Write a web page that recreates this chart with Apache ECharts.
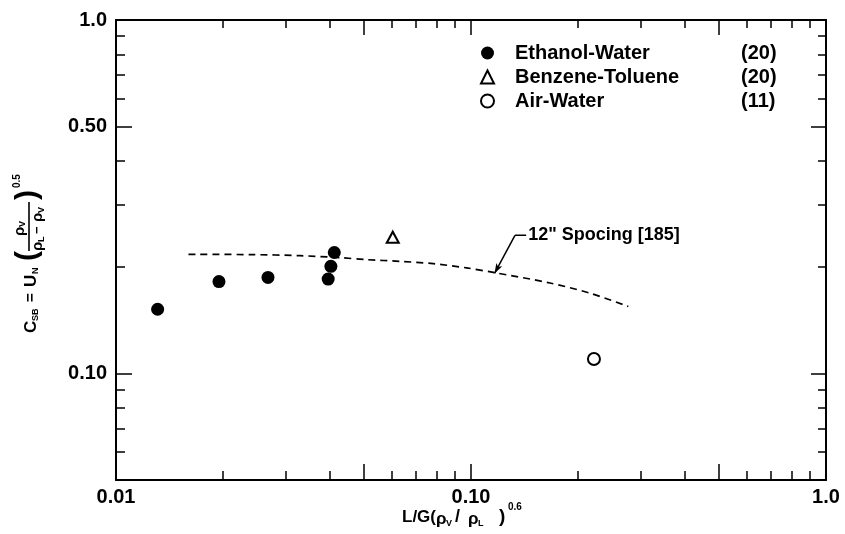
<!DOCTYPE html>
<html><head><meta charset="utf-8">
<script src="https://cdn.jsdelivr.net/npm/echarts@6/dist/echarts.min.js"></script>
<style>html,body{margin:0;padding:0;background:#fff}#c{width:845px;height:534px}</style>
</head><body><div id="c"></div>
<script>
// ---- data ----
const seriesNames = ['Ethanol-Water', 'Benzene-Toluene', 'Air-Water'];
const seriesRefs = ['(20)', '(20)', '(11)'];
const ethanolX = [0.0131, 0.0195, 0.0268, 0.0396, 0.0403, 0.0412];
const ethanolY = [0.152, 0.182, 0.187, 0.185, 0.201, 0.220];
const benzeneX = [0.0602];
const benzeneY = [0.243];
const airX = [0.222];
const airY = [0.110];
const curveX = [0.0160, 0.0239, 0.0330, 0.0428, 0.0508, 0.0631, 0.0783, 0.0972, 0.1156, 0.1669, 0.2164, 0.2774];
const curveY = [0.2174, 0.2170, 0.2155, 0.2127, 0.2100, 0.2077, 0.2046, 0.1990, 0.1932, 0.1804, 0.1688, 0.1548];
const curveLabel = '12" Spocing [185]';
const leaderX = [0.1165, 0.133, 0.143];
const leaderY = [0.192, 0.246, 0.246];
// axes
const xRange = [0.01, 1];
const yRange = [0.05, 1];
const xLabelValues = [0.01, 0.1, 1];
const xLabelTexts = ['0.01', '0.10', '1.0'];
const yLabelValues = [0.1, 0.5, 1];
const yLabelTexts = ['0.10', '0.50', '1.0'];
const xMajorTicks = [0.05, 0.1, 0.5];
const xMinorTicks = [0.02, 0.03, 0.04, 0.06, 0.07, 0.08, 0.09, 0.2, 0.3, 0.4, 0.6, 0.7, 0.8, 0.9];
const yMajorTicks = [0.1, 0.5];
const yMinorTicks = [0.06, 0.07, 0.08, 0.09, 0.2, 0.3, 0.4, 0.6, 0.7, 0.8, 0.9];

const zip = (a, b) => a.map((v, i) => [v, b[i]]);
const FONT = 'Liberation Sans';
const lbl = (vals, texts) => v => {
  let best = -1, d = 1e9;
  vals.forEach((x, i) => { const dd = Math.abs(Math.log10(x) - Math.log10(v)); if (dd < d) { d = dd; best = i; } });
  return d < 1e-6 ? texts[best] : '';
};

function mkAxis(dim, pos, range, showLine, ticks, len, labels) {
  return {
    type: 'log', logBase: 10, min: range[0], max: range[1], position: pos,
    axisLine: { show: showLine, onZero: false, lineStyle: { color: '#000', width: 2 } },
    axisTick: { show: true, inside: true, length: len, customValues: ticks, lineStyle: { color: '#000', width: 1.5 } },
    axisLabel: labels ? {
      show: true, customValues: labels[0], formatter: lbl(labels[0], labels[1]),
      color: '#000', fontFamily: FONT, fontWeight: 'bold', fontSize: 20, margin: dim === 'x' ? 7 : 9
    } : { show: false },
    splitLine: { show: false }, minorTick: { show: false }
  };
}

const T = (text, x, y, size, extra) => ({ type: 'text', x, y,
  style: Object.assign({ text, font: `bold ${size}px "${FONT}"`, fill: '#000', verticalAlign: 'middle' }, extra || {}) });

const chart = echarts.init(document.getElementById('c'), null, { renderer: 'canvas' });
const option = {
  backgroundColor: '#fff',
  animation: false,
  grid: { left: 116, right: 19, top: 20, bottom: 54, containLabel: false },
  xAxis: [
    mkAxis('x', 'bottom', xRange, true, xMajorTicks, 16, [xLabelValues, xLabelTexts]),
    mkAxis('x', 'bottom', xRange, false, xMinorTicks, 9, null),
    mkAxis('x', 'top', xRange, true, xMajorTicks, 15, null),
    mkAxis('x', 'top', xRange, false, xMinorTicks, 8, null)
  ],
  yAxis: [
    mkAxis('y', 'left', yRange, true, yMajorTicks, 16, [yLabelValues, yLabelTexts]),
    mkAxis('y', 'left', yRange, false, yMinorTicks, 9, null),
    mkAxis('y', 'right', yRange, true, yMajorTicks, 15, null),
    mkAxis('y', 'right', yRange, false, yMinorTicks, 8, null)
  ],
  legend: {
    data: seriesNames,
    orient: 'vertical', left: 475, top: 36,
    itemWidth: 13, itemHeight: 13, itemGap: 0,
    selectedMode: false,
    formatter: name => `{n|${name}}{r|${seriesRefs[seriesNames.indexOf(name)]}}`,
    textStyle: {
      color: '#000', fontFamily: FONT, fontWeight: 'bold', fontSize: 20, lineHeight: 24,
      rich: {
        n: { width: 226, padding: [0, 0, 0, 16], fontFamily: FONT, fontWeight: 'bold', fontSize: 20, color: '#000', lineHeight: 24 },
        r: { fontFamily: FONT, fontWeight: 'bold', fontSize: 20, color: '#000', lineHeight: 24 }
      }
    }
  },
  series: [
    { name: seriesNames[0], type: 'scatter', symbol: 'circle', symbolSize: 13,
      itemStyle: { color: '#000', opacity: 1 }, data: zip(ethanolX, ethanolY), z: 5 },
    { name: seriesNames[1], type: 'scatter', symbol: 'emptyTriangle', symbolSize: [12, 11],
      itemStyle: { color: '#000', borderColor: '#000', borderWidth: 1.6, opacity: 1 }, data: zip(benzeneX, benzeneY), z: 5 },
    { name: seriesNames[2], type: 'scatter', symbol: 'emptyCircle', symbolSize: 12,
      itemStyle: { color: '#000', borderColor: '#000', borderWidth: 1.6, opacity: 1 }, data: zip(airX, airY), z: 5 },
    { name: 'curve', type: 'line', showSymbol: false, symbol: 'none', smooth: 0.3,
      lineStyle: { color: '#000', width: 1.7, type: [7, 5] }, data: zip(curveX, curveY), z: 3 },
    { name: 'leader', type: 'line', showSymbol: false, symbol: 'none',
      lineStyle: { color: '#000', width: 1.5 },
      data: zip(leaderX.slice(1), leaderY.slice(1)),
      endLabel: { show: true, formatter: curveLabel, distance: 2,
        color: '#000', fontFamily: FONT, fontWeight: 'bold', fontSize: 18 },
      markLine: {
        silent: true, symbol: ['none', 'arrow'], symbolSize: [5, 10], label: { show: false },
        lineStyle: { color: '#000', width: 1.5, type: 'solid' },
        data: [[{ coord: [leaderX[1], leaderY[1]] }, { coord: [leaderX[0], leaderY[0]] }]]
      }, z: 4 }
  ],
  graphic: [
    { type: 'group', x: 31, y: 333, rotation: Math.PI / 2, children: [
      T('C', 0, 0, 17), T('SB', 12, 5, 9), T('=', 31, 0, 15), T('U', 46, 0, 17), T('N', 59, 5, 9),
      T('(', 72, -3, 30),
      T('ρ', 97, -11, 15), T('V', 106, -8, 9),
      { type: 'line', shape: { x1: 82, y1: -2, x2: 131, y2: -2 }, style: { stroke: '#000', lineWidth: 1.6 } },
      T('ρ', 82, 7, 15), T('L', 91, 11, 9), T('−', 99, 6, 13), T('ρ', 111, 7, 15), T('V', 120, 11, 9),
      T(')', 133, -3, 30), T('0.5', 145, -14, 10)
    ] },
    { type: 'group', x: 402, y: 517, children: [
      T('L/G(', 0, 0, 17), T('ρ', 34, 2, 17), T('V', 44, 7, 9), T('/', 53, 0, 18),
      T('ρ', 66, 2, 17), T('L', 76, 7, 9), T(')', 97, 0, 19), T('0.6', 106, -10, 10)
    ] }
  ]
};
chart.setOption(option);
</script></body></html>
